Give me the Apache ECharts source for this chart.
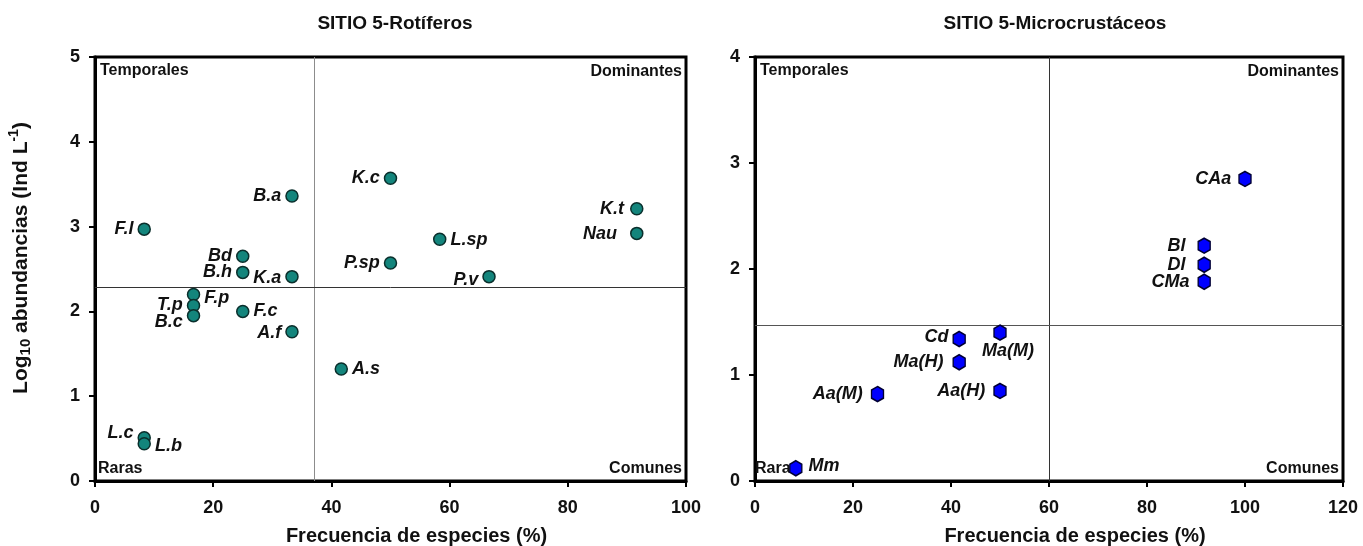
<!DOCTYPE html>
<html>
<head>
<meta charset="utf-8">
<script src="https://cdn.jsdelivr.net/npm/echarts@6/dist/echarts.min.js"></script>
<style>
  html, body { margin: 0; padding: 0; background: #fff; }
  #chart { width: 1363px; height: 546px; }
</style>
</head>
<body>
<div id="chart"></div>
<script>
// Rotíferos, sitio 5: frecuencia de aparición (%) y log10 de abundancia
const rotNames = ['F.l', 'B.a', 'Bd', 'B.h', 'K.a', 'F.p', 'T.p', 'B.c', 'F.c', 'A.f', 'A.s', 'K.c', 'P.sp', 'L.sp', 'P.v', 'K.t', 'Nau', 'L.c', 'L.b'];
const rotFreq  = [8.33, 33.33, 25, 25, 33.33, 16.67, 16.67, 16.67, 25, 33.33, 41.67, 50, 50, 58.33, 66.67, 91.67, 91.67, 8.33, 8.33];
const rotAbund = [2.97, 3.36, 2.65, 2.46, 2.41, 2.20, 2.07, 1.95, 2.00, 1.76, 1.32, 3.57, 2.57, 2.85, 2.41, 3.21, 2.92, 0.51, 0.44];
const rotCut   = [37.05, 2.28];   // límites de cuadrante (frecuencia, abundancia)

// Microcrustáceos, sitio 5
const micNames = ['CAa', 'Bl', 'Dl', 'CMa', 'Cd', 'Ma(M)', 'Ma(H)', 'Aa(H)', 'Aa(M)', 'Mm'];
const micFreq  = [100, 91.67, 91.67, 91.67, 41.67, 50, 41.67, 50, 25, 8.33];
const micAbund = [2.85, 2.22, 2.04, 1.88, 1.34, 1.40, 1.12, 0.85, 0.82, 0.12];
const micCut   = [60, 1.47];

const quadrantNames = ['Temporales', 'Dominantes', 'Raras', 'Comunes'];

// where each species label sits relative to its marker
const labelPlace = {
  'F.l': ['left', 0, 0], 'B.a': ['left', 0, 0], 'Bd': ['left', 0, 0], 'B.h': ['left', 0, 0],
  'K.a': ['left', 0, 1], 'F.p': ['right', 0, 4], 'T.p': ['left', 0, 0], 'B.c': ['left', 0, 6],
  'F.c': ['right', 0, 0], 'A.f': ['left', 0, 1], 'A.s': ['right', 0, 0], 'K.c': ['left', 0, 0],
  'P.sp': ['left', 0, 0], 'L.sp': ['right', 0, 1], 'P.v': ['left', 0, 3], 'K.t': ['left', -2, 0],
  'Nau': ['left', -9, 1], 'L.c': ['left', 0, -5], 'L.b': ['right', 0, 2],
  'CAa': ['left', -3, 0], 'Bl': ['left', -8, 0], 'Dl': ['left', -8, 0], 'CMa': ['left', -4, 0],
  'Cd': ['left', 0, -2], 'Ma(M)': ['bottom', 8, -3], 'Ma(H)': ['left', -5, 0], 'Aa(H)': ['left', -4, 0],
  'Aa(M)': ['left', -4, 0], 'Mm': ['right', 2, -2]
};

const FONT = '"Liberation Sans", Arial, sans-serif';

function points(names, xs, ys) {
  return names.map((n, i) => {
    const p = labelPlace[n] || ['right', 0, 0];
    return {
      name: n,
      value: [xs[i], ys[i]],
      label: { position: p[0], offset: [p[1], p[2]] }
    };
  });
}

function xAxisFor(idx, max) {
  return {
    gridIndex: idx, type: 'value', min: 0, max: max, interval: 20,
    name: 'Frecuencia de especies (%)', nameLocation: 'middle', nameGap: 45,
    nameTextStyle: { fontFamily: FONT, fontSize: 20, fontWeight: 'bold', color: '#111', padding: [0, 0, 0, 52] },
    axisLine: { show: true, lineStyle: { color: '#000', width: 3 } },
    axisTick: { show: true, inside: false, length: 6, lineStyle: { color: '#000', width: 2 } },
    axisLabel: { fontFamily: FONT, fontSize: 18, fontWeight: 'bold', color: '#111', margin: 18 },
    splitLine: { show: false }
  };
}

function yAxisFor(idx, max, withName) {
  const ax = {
    gridIndex: idx, type: 'value', min: 0, max: max, interval: 1,
    axisLine: { show: true, lineStyle: { color: '#000', width: 3 } },
    axisTick: { show: true, inside: false, length: 6, lineStyle: { color: '#000', width: 2 } },
    axisLabel: { fontFamily: FONT, fontSize: 18, fontWeight: 'bold', color: '#111', margin: 15 },
    splitLine: { show: false }
  };
  if (withName) {
    ax.name = '{b|Log}{sub|10}{b| abundancias (Ind L}{sup|-1}{b|)}';
    ax.nameLocation = 'middle';
    ax.nameGap = 60;
    ax.nameTextStyle = {
      fontFamily: FONT, fontSize: 21, fontWeight: 'bold', color: '#111',
      padding: [0, 0, 0, 22],
      rich: {
        b: { fontFamily: FONT, fontSize: 21, fontWeight: 'bold', color: '#111', lineHeight: 28, verticalAlign: 'middle' },
        sub: { fontFamily: FONT, fontSize: 15, fontWeight: 'bold', color: '#111', lineHeight: 28, verticalAlign: 'bottom', padding: [0, 0, 2, 0] },
        sup: { fontFamily: FONT, fontSize: 14, fontWeight: 'bold', color: '#111', lineHeight: 28, verticalAlign: 'top' }
      }
    };
  }
  return ax;
}

function cutLines(cut, vColor, hColor) {
  return {
    silent: true, symbol: 'none', label: { show: false },
    data: [
      { xAxis: cut[0], lineStyle: { color: vColor, width: 1, type: 'solid' } },
      { yAxis: cut[1], lineStyle: { color: hColor, width: 1, type: 'solid' } }
    ]
  };
}

const labelStyle = {
  show: true, formatter: '{b}', distance: 4,
  fontFamily: FONT, fontSize: 18, fontWeight: 'bold', fontStyle: 'italic', color: '#111'
};

const chart = echarts.init(document.getElementById('chart'), null, { renderer: 'canvas' });

const gridBase = {
  top: 57, bottom: 65, show: true, borderColor: '#000', borderWidth: 3,
  backgroundColor: 'transparent', containLabel: false, outerBoundsMode: 'none'
};

chart.setOption({
  animation: false,
  backgroundColor: '#fff',
  title: [
    { text: 'SITIO 5-Rotíferos', left: 390, top: 9, textAlign: 'center',
      textStyle: { fontFamily: FONT, fontSize: 19, fontWeight: 'bold', color: '#111' } },
    { text: 'SITIO 5-Microcrustáceos', left: 1050, top: 9, textAlign: 'center',
      textStyle: { fontFamily: FONT, fontSize: 19, fontWeight: 'bold', color: '#111' } }
  ],
  grid: [
    Object.assign({ left: 95, right: 677 }, gridBase),
    Object.assign({ left: 755, right: 20 }, gridBase)
  ],
  xAxis: [xAxisFor(0, 100), xAxisFor(1, 120)],
  yAxis: [yAxisFor(0, 5, true), yAxisFor(1, 4, false)],
  series: [
    {
      type: 'scatter', xAxisIndex: 0, yAxisIndex: 0,
      symbol: 'circle', symbolSize: 12,
      itemStyle: { color: '#13857C', borderColor: '#0a2f2c', borderWidth: 1.5, opacity: 1 },
      label: labelStyle,
      data: points(rotNames, rotFreq, rotAbund),
      markLine: cutLines(rotCut, '#8c8c8c', '#333'),
      z: 5
    },
    {
      type: 'scatter', xAxisIndex: 1, yAxisIndex: 1,
      symbol: 'path://M5,0L10,3L10,10L5,13L0,10L0,3Z', symbolSize: [12, 15], symbolKeepAspect: false,
      itemStyle: { color: '#0000FF', borderColor: '#000033', borderWidth: 1.5, opacity: 1 },
      label: labelStyle,
      data: points(micNames, micFreq, micAbund),
      markLine: cutLines(micCut, '#333', '#555'),
      z: 5
    }
  ]
});

// quadrant names in the corners of each plot area
function quadrantText(gridIdx, xMax, yMax, leftShift) {
  const finder = { xAxisIndex: gridIdx, yAxisIndex: gridIdx };
  const tl = chart.convertToPixel(finder, [0, yMax]);
  const br = chart.convertToPixel(finder, [xMax, 0]);
  const st = { fontFamily: FONT, fontSize: 16, fontWeight: 'bold', fill: '#111' };
  return [
    { type: 'text', x: tl[0] + 5, y: tl[1] + 6, style: Object.assign({ text: quadrantNames[0], align: 'left', verticalAlign: 'top' }, st), z: 10 },
    { type: 'text', x: br[0] - 4, y: tl[1] + 7, style: Object.assign({ text: quadrantNames[1], align: 'right', verticalAlign: 'top' }, st), z: 10 },
    { type: 'text', x: tl[0] + 3 + leftShift, y: br[1] - 4, style: Object.assign({ text: quadrantNames[2], align: 'left', verticalAlign: 'bottom' }, st), z: 3 },
    { type: 'text', x: br[0] - 4, y: br[1] - 4, style: Object.assign({ text: quadrantNames[3], align: 'right', verticalAlign: 'bottom' }, st), z: 10 }
  ];
}

chart.setOption({
  graphic: quadrantText(0, 100, 5, 0).concat(quadrantText(1, 120, 4, -3))
});
</script>
</body>
</html>
